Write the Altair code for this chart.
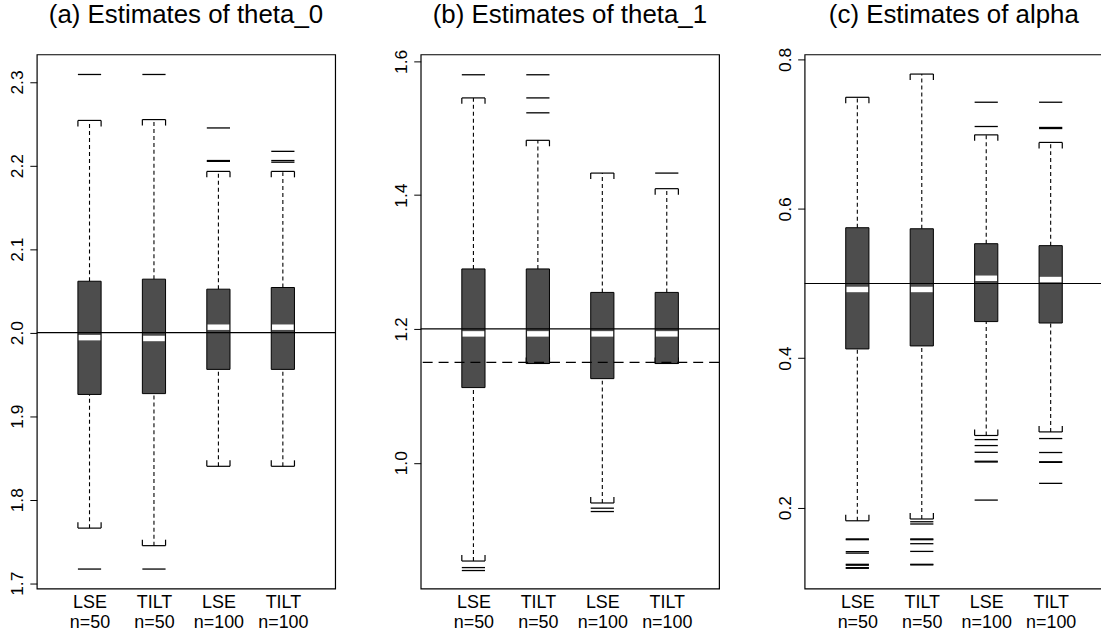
import altair as alt
import pandas as pd

# ---------------- data ----------------
positions = [1, 2, 3, 4]
methods = ["LSE", "TILT", "LSE", "TILT"]
sizes = ["n=50", "n=50", "n=100", "n=100"]

# (a) theta_0
a_lo = [1.766, 1.745, 1.840, 1.840]
a_q1 = [1.926, 1.927, 1.956, 1.956]
a_med = [1.994, 1.993, 2.0065, 2.0065]
a_q3 = [2.0615, 2.064, 2.052, 2.054]
a_hi = [2.254, 2.255, 2.193, 2.193]
a_out_pos = [1, 1, 2, 2, 3, 3, 3, 4, 4, 4]
a_out_val = [2.309, 1.717, 2.309, 1.717, 2.245, 2.206, 2.205, 2.217, 2.206, 2.204]

# (b) theta_1
b_lo = [0.853, 1.1484, 0.9398, 1.1484]
b_q1 = [1.1123, 1.1484, 1.1257, 1.1484]
b_med = [1.1926, 1.1926, 1.1926, 1.1926]
b_q3 = [1.2897, 1.2897, 1.2546, 1.2546]
b_hi = [1.5454, 1.482, 1.433, 1.4097]
b_out_pos = [1, 1, 1, 2, 2, 2, 3, 3, 4]
b_out_val = [1.580, 0.8432, 0.8388, 1.580, 1.5454, 1.5231, 0.932, 0.927, 1.433]

# (c) alpha
c_lo = [0.1823, 0.1847, 0.2965, 0.3013]
c_q1 = [0.4124, 0.4164, 0.449, 0.4471]
c_med = [0.492, 0.492, 0.507, 0.5053]
c_q3 = [0.5747, 0.5733, 0.5533, 0.5507]
c_hi = [0.7493, 0.7804, 0.699, 0.6889]
c_out_pos = [1, 1, 1, 1, 1, 1, 1, 1,
             2, 2, 2, 2, 2, 2, 2, 2,
             3, 3, 3, 3, 3, 3, 3, 3,
             4, 4, 4, 4, 4, 4, 4, 4]
c_out_val = [0.158, 0.157, 0.141, 0.139, 0.124, 0.1228, 0.1195, 0.1187,
             0.181, 0.178, 0.158, 0.157, 0.1516, 0.1413, 0.124, 0.1232,
             0.7427, 0.7102, 0.291, 0.283, 0.274, 0.262, 0.261, 0.210,
             0.7427, 0.7089, 0.7075, 0.2924, 0.2737, 0.2613, 0.2605, 0.2324]

titles = ["(a) Estimates of theta_0", "(b) Estimates of theta_1", "(c) Estimates of alpha"]
y_domains = [[1.6937, 2.333], [0.8119, 1.6104], [0.0916, 0.8067]]
y_ticks = [[1.7, 1.8, 1.9, 2.0, 2.1, 2.2, 2.3], [1.0, 1.2, 1.4, 1.6], [0.2, 0.4, 0.6, 0.8]]
solid_refs = [2.0, 1.2, 0.5]
dashed_refs = [None, 1.15, None]
panel_widths = [300, 300, 300]
title_offsets = [27, 21, 19]

HALF = 0.18
PX_PER_UNIT = 64.8
FONT = "Liberation Sans"

label_expr = "[" + ",".join(
    "['%s','%s']" % (m, n) for m, n in zip(methods, sizes)) + "][round(datum.value) - 1]"


def panel(title, lo, q1, med, q3, hi, out_pos, out_val, ydom, yticks, solid, dashed, width,
          toff):
    boxes = pd.DataFrame({"pos": positions, "lo": lo, "q1": q1, "med": med, "q3": q3, "hi": hi})
    outs = pd.DataFrame({"pos": out_pos, "val": out_val})
    xdom = [1 - 53.0 / PX_PER_UNIT, 1 - 53.0 / PX_PER_UNIT + width / PX_PER_UNIT]
    xscale = alt.Scale(domain=xdom, nice=False, zero=False)
    yscale = alt.Scale(domain=ydom, nice=False, zero=False)

    x_axis = alt.Axis(values=positions, labelExpr=label_expr, ticks=False, domain=False,
                      grid=False, title=None, labelFontSize=18, labelFont=FONT,
                      labelColor="black", labelLineHeight=20, labelPadding=5,
                      labelBaseline="top")
    y_axis = alt.Axis(values=yticks, format=".1f", labelAngle=-90, labelAlign="center",
                      labelBaseline="bottom", tickSize=7, tickColor="black", domain=False,
                      grid=False, title=None, labelFontSize=17.5, labelFont=FONT,
                      labelColor="black", labelPadding=3)

    def X(f):
        return alt.X(f, scale=xscale, axis=x_axis, title=None)

    def Y(f):
        return alt.Y(f, scale=yscale, axis=y_axis, title=None)

    base = alt.Chart(boxes).transform_calculate(
        xl="datum.pos - %f" % HALF, xr="datum.pos + %f" % HALF,
        ml="datum.pos - %f" % (HALF - 0.012), mr="datum.pos + %f" % (HALF - 0.012))

    wh_up = base.mark_rule(color="black", strokeWidth=1.1, strokeDash=[4, 3]).encode(
        x=X("pos:Q"), y=Y("q3:Q"), y2="hi:Q")
    wh_lo = base.mark_rule(color="black", strokeWidth=1.1, strokeDash=[4, 3]).encode(
        x=X("pos:Q"), y=Y("lo:Q"), y2="q1:Q")
    cap_up = base.mark_rule(color="black", strokeWidth=1.2).encode(
        x=X("xl:Q"), x2="xr:Q", y=Y("hi:Q"))
    cap_lo = base.mark_rule(color="black", strokeWidth=1.2).encode(
        x=X("xl:Q"), x2="xr:Q", y=Y("lo:Q"))
    legs_up = base.transform_fold(["xl", "xr"], as_=["side", "xe"]).mark_tick(
        orient="vertical", size=6, thickness=1.2, yOffset=3, color="black", opacity=1).encode(
        x=X("xe:Q"), y=Y("hi:Q"))
    legs_lo = base.transform_fold(["xl", "xr"], as_=["side", "xe"]).mark_tick(
        orient="vertical", size=6, thickness=1.2, yOffset=-3, color="black", opacity=1).encode(
        x=X("xe:Q"), y=Y("lo:Q"))
    box = base.mark_rect(fill="#4d4d4d", stroke="black", strokeWidth=1).encode(
        x=X("xl:Q"), x2="xr:Q", y=Y("q1:Q"), y2="q3:Q")
    median = base.mark_rule(color="white", strokeWidth=5.5).encode(
        x=X("ml:Q"), x2="mr:Q", y=Y("med:Q"))
    outl = alt.Chart(outs).transform_calculate(
        xl="datum.pos - %f" % HALF, xr="datum.pos + %f" % HALF).mark_rule(
        color="black", strokeWidth=1.3).encode(
        x=X("xl:Q"), x2="xr:Q", y=Y("val:Q"))

    layers = [wh_up, wh_lo, legs_up, legs_lo, cap_up, cap_lo, box, median, outl]

    ref = alt.Chart(pd.DataFrame({"v": [solid]})).mark_rule(
        color="black", strokeWidth=1.2).encode(y=Y("v:Q"))
    layers.append(ref)
    if dashed is not None:
        dref = alt.Chart(pd.DataFrame({"v": [dashed]})).mark_rule(
            color="black", strokeWidth=1.2, strokeDash=[10, 6]).encode(y=Y("v:Q"))
        layers.append(dref)

    return alt.layer(*layers).properties(
        width=width, height=537,
        title=alt.TitleParams(text=title, fontSize=26, font=FONT, fontWeight="normal",
                              color="black", anchor="middle", frame="group", offset=toff))


pa = panel(titles[0], a_lo, a_q1, a_med, a_q3, a_hi, a_out_pos, a_out_val,
           y_domains[0], y_ticks[0], solid_refs[0], dashed_refs[0], panel_widths[0],
           title_offsets[0])
pb = panel(titles[1], b_lo, b_q1, b_med, b_q3, b_hi, b_out_pos, b_out_val,
           y_domains[1], y_ticks[1], solid_refs[1], dashed_refs[1], panel_widths[1],
           title_offsets[1])
pc = panel(titles[2], c_lo, c_q1, c_med, c_q3, c_hi, c_out_pos, c_out_val,
           y_domains[2], y_ticks[2], solid_refs[2], dashed_refs[2], panel_widths[2],
           title_offsets[2])

chart = alt.hconcat(pa, pb, pc, spacing=55).properties(
    padding={"left": 8, "top": -1, "right": -4, "bottom": 0},
    background="white"
).configure_view(stroke="black", strokeWidth=1.2)

chart.save("out.html", embed_options={"renderer": "svg", "actions": False})
